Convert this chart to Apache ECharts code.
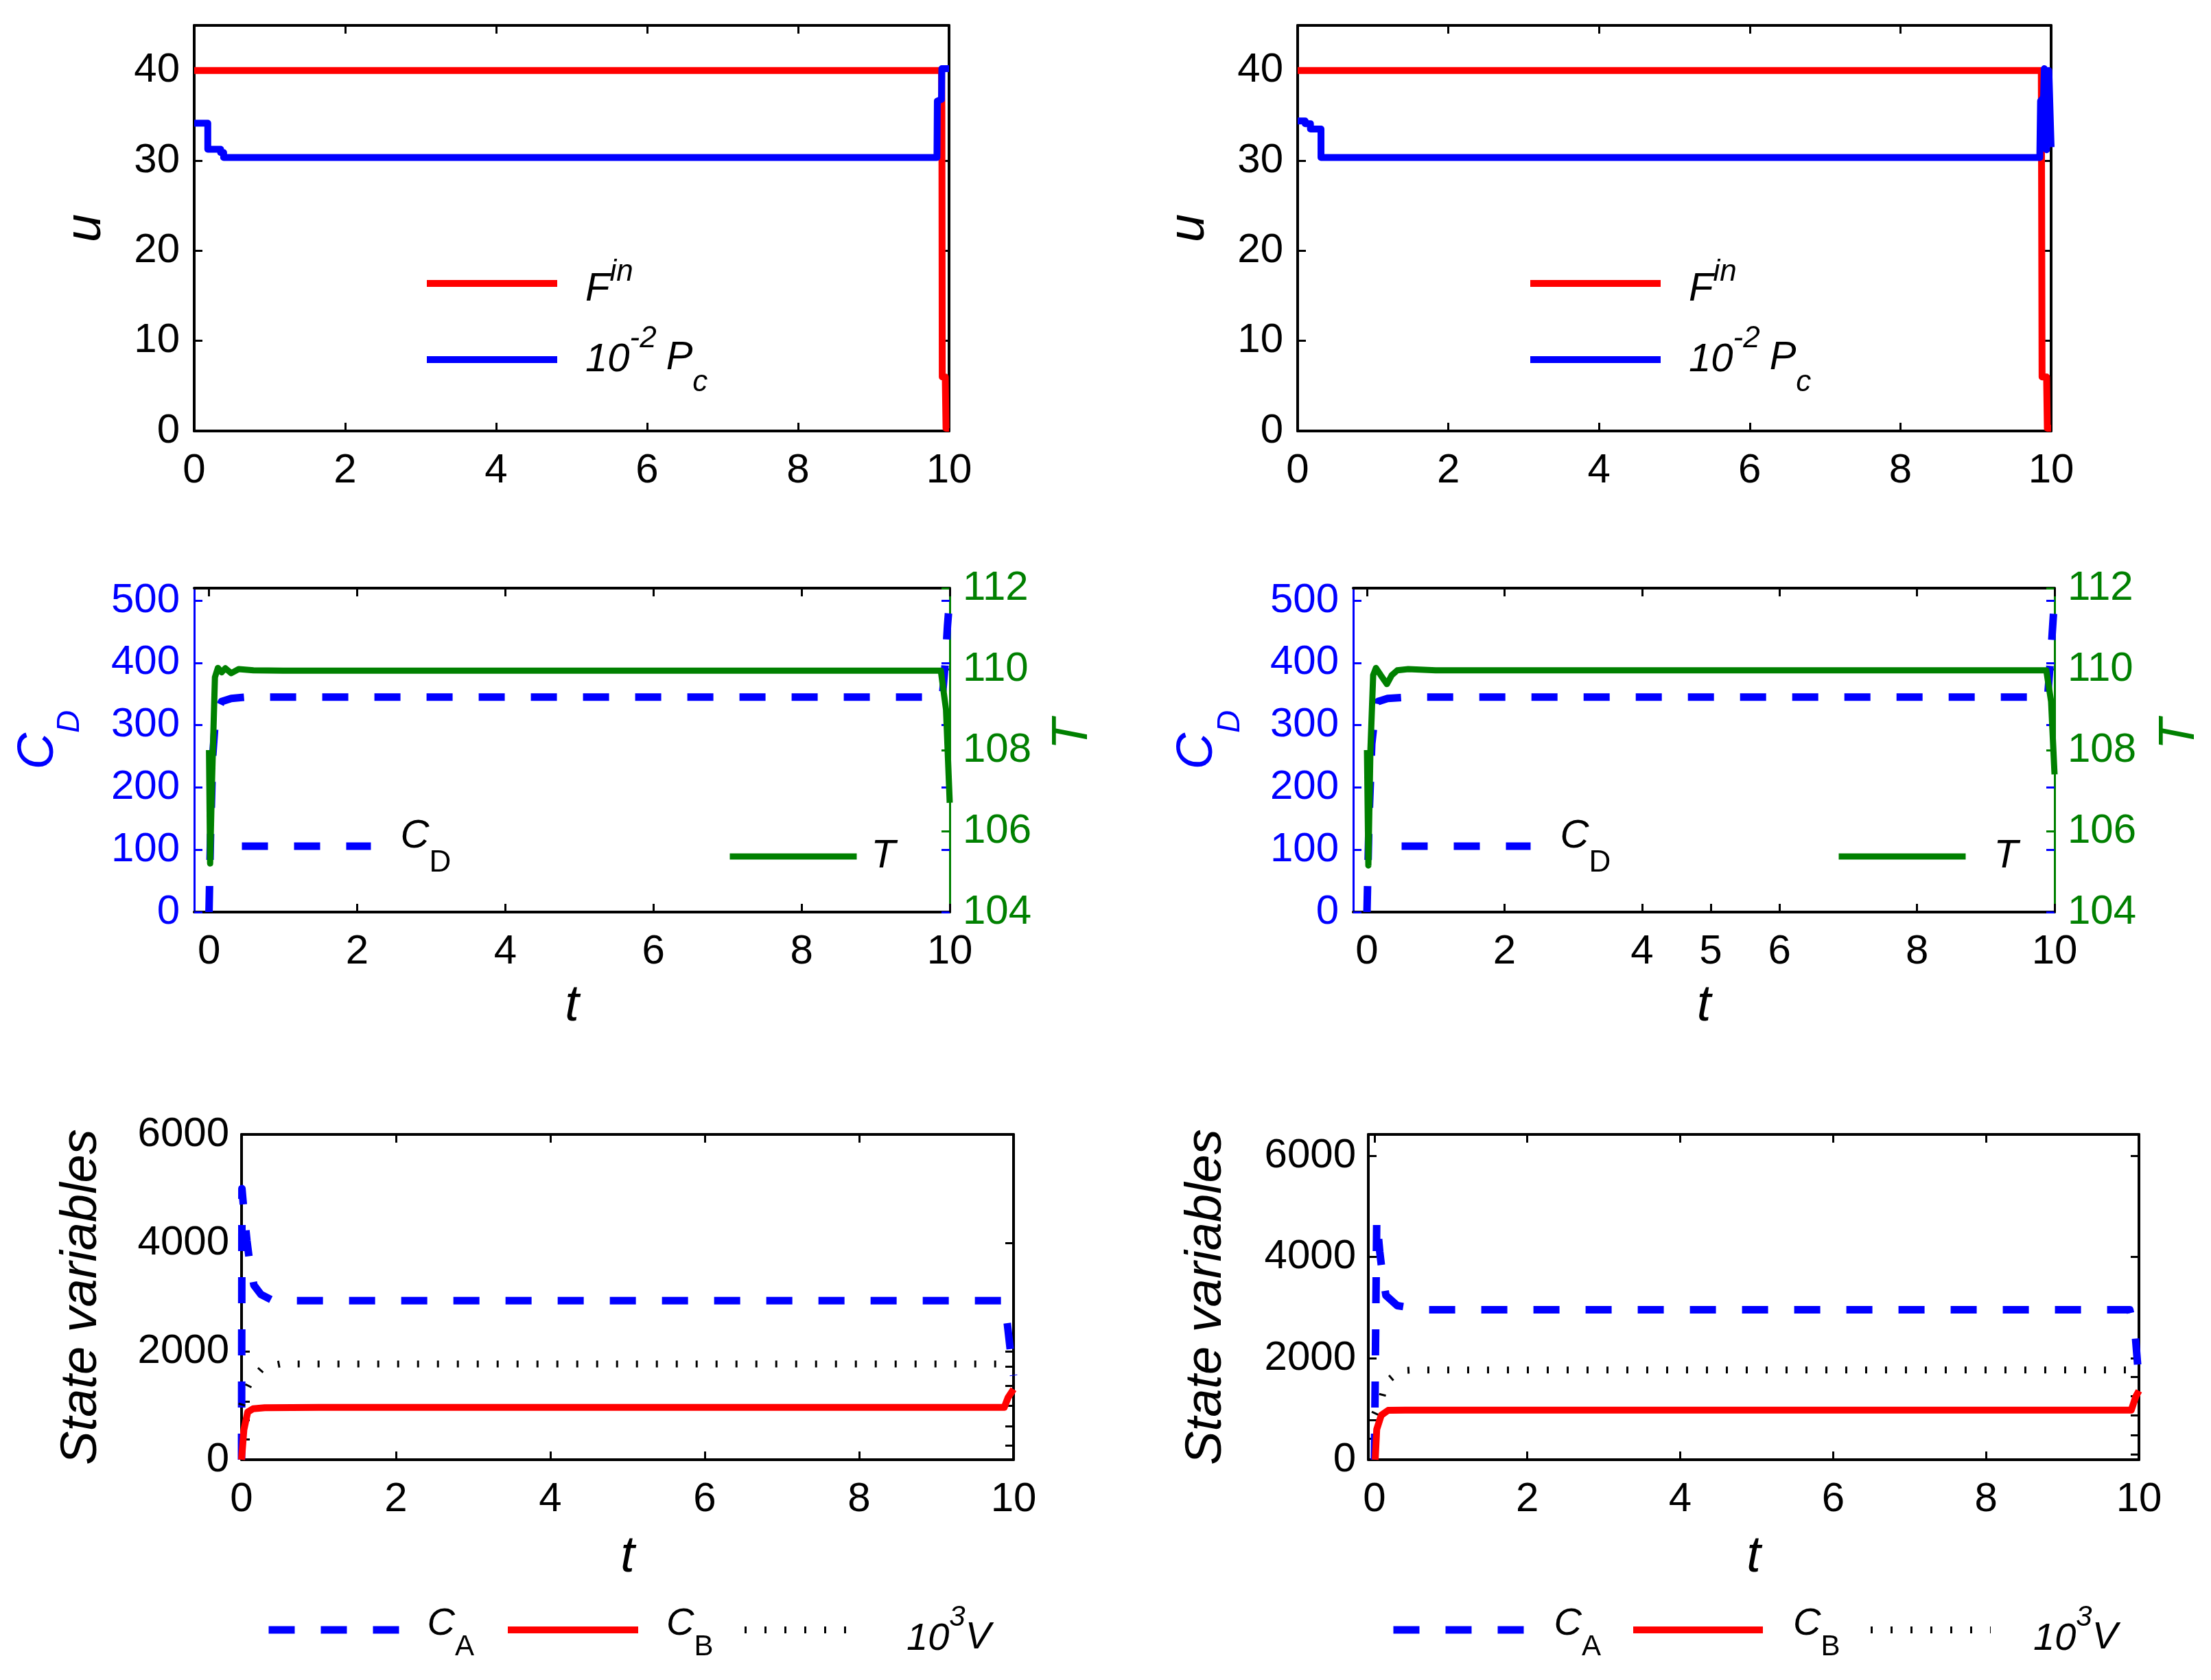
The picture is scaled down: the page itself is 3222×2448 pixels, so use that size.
<!DOCTYPE html>
<html>
<head>
<meta charset="utf-8">
<script src="https://cdn.jsdelivr.net/npm/echarts@6/dist/echarts.min.js"></script>
<style>
html, body { margin: 0; padding: 0; background: #fff; }
#main { width: 3222px; height: 2448px; }
</style>
</head>
<body>
<div id="main"></div>
<script>
(function (window) {
	var FONT = 'Liberation Sans';
	var BLUE = '#0000ff', RED = '#ff0000', GREEN = '#008000';

	/* tick values */
	var tTicks = [0, 2, 4, 6, 8, 10];
	var tTicks5 = [0, 2, 4, 5, 6, 8, 10];
	var uTicks = [0, 10, 20, 30, 40];
	var cdTicks = [0, 100, 200, 300, 400, 500];
	var tempTicks = [104, 106, 108, 110, 112];
	var svTicks = [0, 2000, 4000, 6000];
	// short leftover ticks on the state variable panels
	var svExtraL1 = [379, 733, 1074];
	var svExtraR1 = [265, 619, 998, 1364, 1718];
	var svExtraL2 = [419, 784];
	var svExtraR2 = [108, 486, 878, 1257, 1635];

	/* controls, [t, value] */
	var finL = [[0, 40], [9.9, 40], [9.905, 36], [9.91, 6], [9.95, 6], [9.96, 0.3], [10, 0.3]];
	var pcL = [[0, 34.15], [0.18, 34.15], [0.18, 31.25], [0.35, 31.25], [0.35, 30.9], [0.39, 30.9], [0.39, 30.35],
		[9.84, 30.35], [9.845, 36.6], [9.9, 36.8], [9.905, 40.2], [10, 40.2]];
	var finR = [[0, 40], [9.87, 40], [9.88, 6], [9.94, 6], [9.95, 0.3], [10, 0.3]];
	var pcR = [[0, 34.4], [0.1, 34.4], [0.1, 34.1], [0.17, 34.1], [0.17, 33.5], [0.31, 33.5], [0.31, 30.35],
		[9.85, 30.35], [9.86, 36.6], [9.9, 37], [9.91, 40.2], [9.94, 31.2], [9.97, 40], [10, 31.5]];

	/* C_D and T */
	var cdL = [[0, 0], [0.02, 120], [0.05, 250], [0.08, 300], [0.12, 325], [0.17, 338], [0.3, 343], [0.5, 345],
		[9.9, 345], [9.94, 400], [9.97, 460], [10, 505]];
	var tL = [[0, 108], [0.015, 105.2], [0.04, 107.2], [0.08, 109.8], [0.12, 110.03], [0.17, 109.92], [0.22, 110.02],
		[0.3, 109.9], [0.4, 110.0], [0.6, 109.97], [1, 109.96], [9.88, 109.96], [9.95, 109], [10, 106.7]];
	var cdR = [[0, 0], [0.03, 150], [0.07, 270], [0.1, 300], [0.16, 338], [0.3, 343], [0.58, 345],
		[9.9, 345], [9.95, 420], [10, 505]];
	var tR = [[0, 108], [0.02, 105.15], [0.05, 108], [0.09, 109.85], [0.13, 110.03], [0.2, 109.85], [0.29, 109.63],
		[0.36, 109.85], [0.44, 109.97], [0.6, 110.0], [1, 109.97], [9.88, 109.97], [9.95, 109.2], [10, 107.4]];

	/* state variables */
	var caL = [[0, 0], [0.005, 5000], [0.03, 4600], [0.07, 4040], [0.1, 3700], [0.16, 3220], [0.25, 3050], [0.38, 2955],
		[0.6, 2935], [9.88, 2935], [9.92, 2500], [9.96, 2000], [10, 1550]];
	var cbL = [[0, 0], [0.03, 550], [0.08, 880], [0.15, 940], [0.3, 960], [1, 965], [9.88, 965], [9.93, 1150], [10, 1300]];
	var vL = [[0, 1000], [0.05, 1250], [0.115, 1440], [0.28, 1707], [0.5, 1767], [10, 1767]];
	var caR = [[0, 0], [0.03, 4750], [0.07, 4100], [0.1, 3716], [0.15, 3243], [0.3, 3040], [0.63, 2960],
		[9.88, 2960], [9.95, 2500], [10, 1550]];
	var cbR = [[0.01, 0], [0.03, 600], [0.09, 880], [0.18, 975], [0.4, 980], [9.9, 980], [9.96, 1250], [10, 1360]];
	var vR = [[0, 900], [0.09, 1190], [0.15, 1527], [0.33, 1757], [0.5, 1770], [10, 1770]];

	var grids = [
		{left: 283, top: 37, width: 1100, height: 591},
		{left: 1891, top: 37, width: 1098, height: 591},
		{left: 283, top: 857, width: 1101, height: 472},
		{left: 1972, top: 857, width: 1022, height: 472},
		{left: 352, top: 1653, width: 1125, height: 474},
		{left: 1994, top: 1653, width: 1123, height: 474}
	];
	for (var g = 0; g < grids.length; g++) {
		grids[g].containLabel = false;
		grids[g].outerBoundsMode = 'none';
	}

	function nameStyle(color, rich) {
		return {fontFamily: FONT, fontStyle: 'italic', fontSize: 74, color: color || '#000', rich: rich};
	}

	function plain(v) {
		return String(v);
	}

	function axis(o) {
		var col = o.color || '#000';
		return {
			type: 'value', gridIndex: o.grid, position: o.pos, min: o.min, max: o.max,
			axisLine: {show: o.line !== false, onZero: false, lineStyle: {color: o.lineColor || col, width: o.lineWidth || 4}},
			axisTick: {show: true, inside: true, length: 12, customValues: o.ticks,
				lineStyle: {color: col, width: 3}},
			axisLabel: {show: !!o.labels, customValues: o.labels || o.ticks, margin: o.margin || 22,
				formatter: plain, color: col, fontFamily: FONT, fontSize: 60},
			splitLine: {show: false},
			name: o.name || '', nameLocation: 'middle', nameGap: o.nameGap || 0,
			nameTextStyle: nameStyle(o.nameColor || col, o.rich)
		};
	}

	var L = 120;
	var KX = -5; // small horizontal nudge for all keys
	function tk(size, shift, padLeft, italic) {
		return {
			fontFamily: FONT, fontSize: size, fontStyle: italic === false ? 'normal' : 'italic',
			color: '#000', lineHeight: L,
			padding: [shift > 0 ? 2 * shift : 0, 0, shift < 0 ? -2 * shift : 0, padLeft || 0]
		};
	}
	function key(name, x, y, w, ls, fmt, rich) {
		return {
			show: true, selectedMode: false, orient: 'horizontal',
			left: x + KX, top: y - L / 2, padding: 0, itemGap: 0,
			itemWidth: w, itemHeight: 20,
			data: [name], formatter: fmt,
			itemStyle: {opacity: 0},
			lineStyle: {color: ls.color, width: ls.width, type: ls.type || 'solid', cap: 'butt'},
			textStyle: {color: '#000', lineHeight: L, rich: rich}
		};
	}

	function line(name, data, xi, yi, ls) {
		return {
			type: 'line', name: name, data: data, xAxisIndex: xi, yAxisIndex: yi,
			symbol: 'none', showSymbol: false, clip: true, silent: true,
			lineStyle: {color: ls.color, width: ls.width, type: ls.type || 'solid', cap: 'butt', join: 'round'},
			itemStyle: {color: ls.color}
		};
	}

	var xAxes = [
		axis({grid: 0, pos: 'bottom', min: 0, max: 10, ticks: tTicks, labels: tTicks, margin: 28}),
		axis({grid: 0, pos: 'top', min: 0, max: 10, ticks: tTicks}),
		axis({grid: 1, pos: 'bottom', min: 0, max: 10, ticks: tTicks, labels: tTicks, margin: 28}),
		axis({grid: 1, pos: 'top', min: 0, max: 10, ticks: tTicks}),
		axis({grid: 2, pos: 'bottom', min: -0.2, max: 10, ticks: tTicks, labels: tTicks, margin: 28, name: 't', nameGap: 100}),
		axis({grid: 2, pos: 'top', min: -0.2, max: 10, ticks: tTicks}),
		axis({grid: 3, pos: 'bottom', min: -0.2, max: 10, ticks: tTicks5, labels: tTicks5, margin: 28, name: 't', nameGap: 100}),
		axis({grid: 3, pos: 'top', min: -0.2, max: 10, ticks: tTicks}),
		axis({grid: 4, pos: 'bottom', min: 0, max: 10, ticks: tTicks, labels: tTicks, margin: 28, name: 't', nameGap: 105}),
		axis({grid: 4, pos: 'top', min: 0, max: 10, ticks: tTicks}),
		axis({grid: 5, pos: 'bottom', min: -0.08, max: 10, ticks: tTicks, labels: tTicks, margin: 28, name: 't', nameGap: 105}),
		axis({grid: 5, pos: 'top', min: -0.08, max: 10, ticks: tTicks})
	];

	var cdRich = function (shift) {
		return {
			a: {fontFamily: FONT, fontStyle: 'italic', fontSize: 74, color: BLUE, lineHeight: 74, padding: [0, 0, 0, 30]},
			b: {fontFamily: FONT, fontStyle: 'italic', fontSize: 46, color: BLUE, lineHeight: 74, padding: [2 * shift, 0, 0, 0]}
		};
	};
	var tRich = {a: {fontFamily: FONT, fontStyle: 'italic', fontSize: 74, color: GREEN, lineHeight: 74, padding: [0, 0, 0, 46]}};

	var yAxes = [
		axis({grid: 0, pos: 'left', min: 0, max: 45, ticks: uTicks, labels: uTicks, margin: 21, name: 'u', nameGap: 121}),
		axis({grid: 0, pos: 'right', min: 0, max: 45, ticks: uTicks}),
		axis({grid: 1, pos: 'left', min: 0, max: 45, ticks: uTicks, labels: uTicks, margin: 21, name: 'u', nameGap: 121}),
		axis({grid: 1, pos: 'right', min: 0, max: 45, ticks: uTicks}),
		// C_D / T panel, left
		axis({grid: 2, pos: 'left', min: 0, max: 520, ticks: cdTicks, labels: cdTicks, margin: 21, color: BLUE, lineWidth: 3,
			name: '{a|C}{b|D}', nameGap: 190, rich: cdRich(46)}),
		axis({grid: 2, pos: 'right', min: 104, max: 112, ticks: tempTicks, labels: tempTicks, margin: 19, color: GREEN, lineWidth: 3,
			name: '{a|T}', nameGap: 142, rich: tRich}),
		axis({grid: 2, pos: 'right', min: 0, max: 520, ticks: cdTicks, color: BLUE, line: false}),
		// C_D / T panel, right
		axis({grid: 3, pos: 'left', min: 0, max: 520, ticks: cdTicks, labels: cdTicks, margin: 21, color: BLUE, lineWidth: 3,
			name: '{a|C}{b|D}', nameGap: 190, rich: cdRich(48)}),
		axis({grid: 3, pos: 'right', min: 104, max: 112, ticks: tempTicks, labels: tempTicks, margin: 19, color: GREEN, lineWidth: 3,
			name: '{a|T}', nameGap: 145, rich: tRich}),
		axis({grid: 3, pos: 'right', min: 0, max: 520, ticks: cdTicks, color: BLUE, line: false}),
		// state variables
		axis({grid: 4, pos: 'left', min: 0, max: 6000, ticks: svTicks.concat(svExtraL1), labels: svTicks, margin: 18,
			name: 'State variables', nameGap: 196}),
		axis({grid: 4, pos: 'right', min: 0, max: 6000, ticks: svTicks.concat(svExtraR1)}),
		axis({grid: 5, pos: 'left', min: 0, max: 6420, ticks: svTicks.concat(svExtraL2), labels: svTicks, margin: 18,
			name: 'State variables', nameGap: 199}),
		axis({grid: 5, pos: 'right', min: 0, max: 6420, ticks: svTicks.concat(svExtraR2)})
	];

	/* line styles */
	var redSolid = {color: RED, width: 10};
	var blueSolid = {color: BLUE, width: 10};
	var blueDash = {color: BLUE, width: 11, type: [38, 38]};
	var greenSolid = {color: GREEN, width: 9};
	var blackDots = {color: '#000', width: 10, type: [3, 26]};

	var series = [
		line('FinL', finL, 0, 0, redSolid),
		line('PcL', pcL, 0, 0, blueSolid),
		line('FinR', finR, 2, 2, redSolid),
		line('PcR', pcR, 2, 2, blueSolid),
		line('CdL', cdL, 4, 4, blueDash),
		line('TL', tL, 4, 5, greenSolid),
		line('CdR', cdR, 6, 7, blueDash),
		line('TR', tR, 6, 8, greenSolid),
		line('CaL', caL, 8, 10, blueDash),
		line('CbL', cbL, 8, 10, redSolid),
		line('VL', vL, 8, 10, blackDots),
		line('CaR', caR, 10, 12, blueDash),
		line('CbR', cbR, 10, 12, redSolid),
		line('VR', vR, 10, 12, blackDots)
	];

	var legends = [
		key('FinL', 622, 413, 190, redSolid, '{a|F}{b|in}', {a: tk(58, 9, 36), b: tk(44, -16)}),
		key('PcL', 622, 524, 190, blueSolid, '{a|10}{b|-2}{c|P}{d|c}', {a: tk(58, 1, 36), b: tk(44, -30), c: tk(58, -2, 14), d: tk(44, 34)}),
		key('FinR', 2230, 413, 190, redSolid, '{a|F}{b|in}', {a: tk(58, 9, 36), b: tk(44, -16)}),
		key('PcR', 2230, 524, 190, blueSolid, '{a|10}{b|-2}{c|P}{d|c}', {a: tk(58, 1, 36), b: tk(44, -30), c: tk(58, -2, 14), d: tk(44, 34)}),
		key('CdL', 352, 1233, 188, blueDash, '{a|C}{b|D}', {a: tk(58, -14, 38), b: tk(44, 25, 0, false)}),
		key('TL', 1064, 1248, 185, greenSolid, '{a|T}', {a: tk(58, 0, 16)}),
		key('CdR', 2042, 1233, 188, blueDash, '{a|C}{b|D}', {a: tk(58, -14, 38), b: tk(44, 25, 0, false)}),
		key('TR', 2680, 1248, 185, greenSolid, '{a|T}', {a: tk(58, 0, 36)}),
		key('CaL', 391, 2375, 190, blueDash, '{a|C}{b|A}', {a: tk(56, -9, 36), b: tk(42, 25, 0, false)}),
		key('CbL', 740, 2375, 190, redSolid, '{a|C}{b|B}', {a: tk(56, -9, 36), b: tk(42, 25, 0, false)}),
		key('VL', 1085, 2375, 174, blackDots, '{a|10}{b|3}{c|V}', {a: tk(56, 13, 57), b: tk(42, -18), c: tk(56, 11)}),
		key('CaR', 2030, 2375, 190, blueDash, '{a|C}{b|A}', {a: tk(56, -9, 39), b: tk(42, 25, 0, false)}),
		key('CbR', 2380, 2375, 189, redSolid, '{a|C}{b|B}', {a: tk(56, -9, 39), b: tk(42, 25, 0, false)}),
		key('VR', 2726, 2375, 175, blackDots, '{a|10}{b|3}{c|V}', {a: tk(56, 13, 57), b: tk(42, -18), c: tk(56, 11)})
	];

	var myChart = echarts.init(document.getElementById('main'), null, {renderer: 'canvas'});
	myChart.setOption({
		animation: false,
		backgroundColor: '#fff',
		textStyle: {fontFamily: FONT},
		grid: grids,
		xAxis: xAxes,
		yAxis: yAxes,
		legend: legends,
		series: series
	});
})(window);
</script>
</body>
</html>
